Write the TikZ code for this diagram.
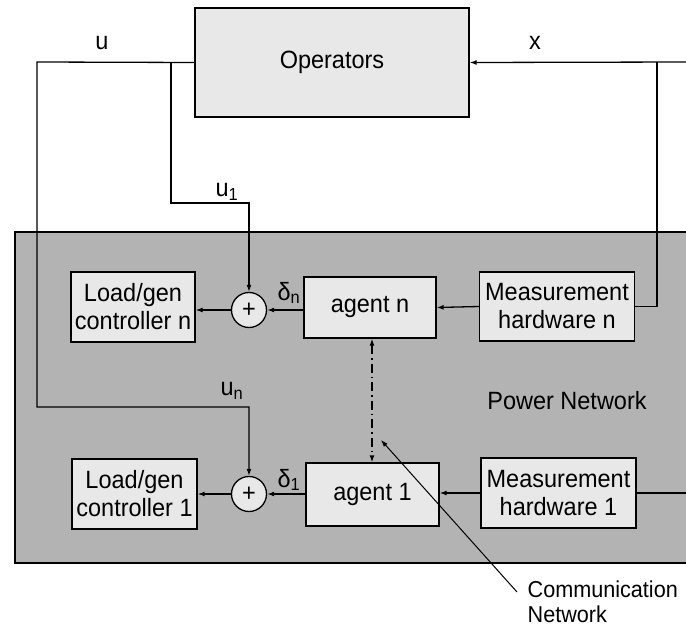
\documentclass[tikz,border=0pt]{standalone}
\usepackage{fontspec}
\setmainfont[FakeStretch=0.94]{Liberation Sans}
\usetikzlibrary{arrows.meta}
\definecolor{boxfill}{HTML}{E8E8E8}
\definecolor{netfill}{HTML}{B3B3B3}
\begin{document}
\begin{tikzpicture}[x=1pt,y=-1pt,
  line width=1.3pt,
  font=\fontsize{25}{28}\selectfont,
  tip/.style={-{Latex[length=7pt,width=5pt]}},
  blk/.style={draw, fill=boxfill, inner sep=0pt, align=center},
  sumnode/.style={draw, fill=boxfill, circle, minimum size=35pt, inner sep=0pt},
  lbl/.style={inner sep=0pt},
  dashdot/.style={dash pattern=on 9pt off 4pt on 1.5pt off 4pt}]
\useasboundingbox (0,0) rectangle (686,626);

% power network area (runs off the right edge)
\fill[netfill] (15,232) rectangle (686,563);
\draw (686,232) -- (15,232) -- (15,563) -- (686,563);
\node[lbl] (pn) at (567,401) {Power Network};

% operators
\node[blk, minimum width=274pt, minimum height=109pt] (op) at (332,62.5) {Operators};

% row n
\node[blk, minimum width=124pt, minimum height=70pt] (lgn) at (133,307) {Load/gen\\controller n};
\node[sumnode] (sn) at (249,310) {+};
\node[blk, minimum width=132pt, minimum height=61pt] (an) at (370,307.5) {agent n};
\node[blk, minimum width=155pt, minimum height=69pt] (mn) at (557,306.5) {Measurement\\hardware n};

% row 1
\node[blk, minimum width=125pt, minimum height=70pt] (lg1) at (134.5,494) {Load/gen\\controller 1};
\node[sumnode] (s1) at (249,494) {+};
\node[blk, minimum width=133pt, minimum height=63pt] (a1) at (372.5,494.5) {agent 1};
\node[blk, minimum width=155pt, minimum height=70pt] (m1) at (558.5,493) {Measurement\\hardware 1};

% signal labels
\node[lbl] (lu) at (102,43) {u};
\node[lbl] (lx) at (535,43) {x};
\node[lbl] (lu1) at (227,192) {u\textsubscript{1}};
\node[lbl] (lun) at (232,391) {u\textsubscript{n}};
\node[lbl] (ldn) at (289,293) {δ\textsubscript{n}};
\node[lbl] (ld1) at (289,480) {δ\textsubscript{1}};

% measured state x fed back to the operators
\coordinate (xin) at (686,62);
\coordinate (xtap) at (657,62);
\draw[tip] (xin) -- (op.east);
\draw (xtap) -- (xtap |- mn.east) -- (mn.east);
\coordinate (m1out) at (686,493);
\draw (m1.east) -- (m1out);

% operator command u distributed to the summing points
\coordinate (ul) at (37,62);
\coordinate (ub) at (171,62);
\draw (op.west) -- (ul) -- (37,407) -- (249,407) [tip] -- (s1.north);
\draw[tip] (ub) -- (171,203) -- (249,203) -- (sn.north);

% local signal paths
\draw[tip] (mn.west) -- (an.east);
\draw[tip] (an.west |- sn.east) -- (sn.east);
\draw[tip] (sn.west) -- (sn.west -| lgn.east);
\draw[tip] (m1.west) -- (m1.west -| a1.east);
\draw[tip] (a1.west |- s1.east) -- (s1.east);
\draw[tip] (s1.west) -- (s1.west -| lg1.east);

% communication link between agents
\coordinate (cl) at (372,400);
\draw[dashdot, {Latex[length=7pt,width=5pt]}-{Latex[length=7pt,width=5pt]}] (an.south -| cl) -- (a1.north -| cl);

% communication network callout
\node[lbl, anchor=north west, align=left, font=\fontsize{23}{25}\selectfont] (cn) at (527,580) {Communication\\Network};
\coordinate (cstart) at (517,592);
\coordinate (ctip) at (381,440);
\draw[line width=1pt, tip] (cstart) -- (ctip);
\end{tikzpicture}
\end{document}
